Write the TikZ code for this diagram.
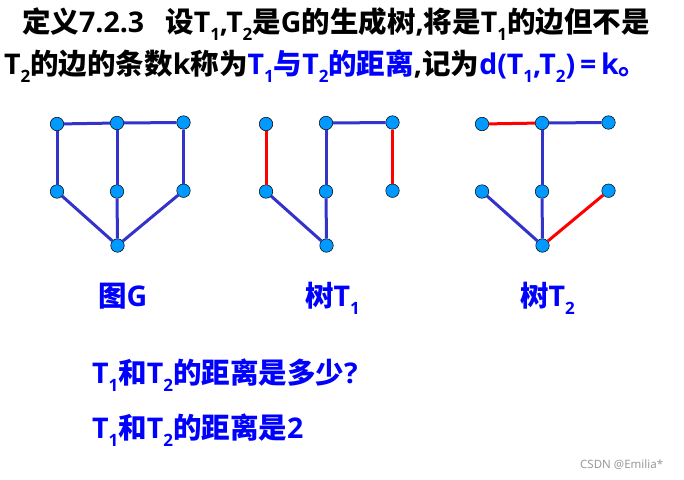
\documentclass[tikz,border=0pt]{standalone}
\usepackage{fontspec}
\setmainfont{Noto Sans CJK SC}
\newfontfamily\latfont{Open Sans}
\newfontfamily\markfont{Noto Sans}
\newcommand\lw[1]{{\latfont #1}}
\newcommand\sbs[1]{\raisebox{-0.3em}{\latfont\fontsize{17}{17}\selectfont #1}}
\definecolor{vtxblue}{RGB}{0,153,255}
\definecolor{edgeblue}{RGB}{51,51,204}
\definecolor{txtblue}{RGB}{0,0,255}
\tikzset{
  vtx/.style={circle,draw=black,line width=0.5pt,fill=vtxblue,inner sep=0pt,minimum size=13.5pt},
  bluedge/.style={line width=3pt,draw=edgeblue},
  rededge/.style={line width=3pt,draw=red},
  txt/.style={anchor=base west,inner sep=0pt,font=\bfseries\fontsize{28.5}{32}\selectfont}
}

\begin{document}
\begin{tikzpicture}[x=1pt,y=-1pt]
\useasboundingbox (0,0) rectangle (684,479);
\node[txt] (ttl1) at (22,32) {定义\lw{7.2.3}\hspace{21pt}设\lw{T}\sbs{1}\lw{,T}\sbs{2}是\lw{G}的生成树\lw{,}将是\lw{T}\sbs{1}的边但不是};
\node[txt] (ttl2) at (4,74) {\lw{T}\sbs{2}的边的条数\lw{k}称为\textcolor{txtblue}{\lw{T}\sbs{1}与\lw{T}\sbs{2}的距离}\lw{,}记为\textcolor{txtblue}{\lw{d(T}\sbs{1}\lw{,T}\sbs{2}\lw{)\,=\,k}。}};
\foreach \g/\dx in {g/57,a/266,b/482}{
  \node[vtx] (\g1) at (\dx,124) {};
  \node[vtx] (\g2) at ({\dx+60},123) {};
  \node[vtx] (\g3) at ({\dx+126.5},122.5) {};
  \node[vtx] (\g4) at (\dx,191.5) {};
  \node[vtx] (\g5) at ({\dx+60},191.5) {};
  \node[vtx] (\g6) at ({\dx+126.5},190.7) {};
  \node[vtx] (\g7) at ({\dx+60.5},245.5) {};
}
\foreach \u/\v in {1/2,2/3,1/4,2/5,3/6,4/7,5/7,6/7} \draw[bluedge] (g\u)--(g\v);
\foreach \g in {a,b}{
  \foreach \u/\v in {2/3,2/5,4/7,5/7} \draw[bluedge] (\g\u)--(\g\v);
}
\foreach \u/\v in {1/4,3/6} \draw[rededge] (a\u)--(a\v);
\foreach \u/\v in {1/2,6/7} \draw[rededge] (b\u)--(b\v);
\node[txt,text=txtblue] (lblG) at (98,306) {图\lw{G}};
\node[txt,text=txtblue] (lblA) at (305,306) {树\lw{T}\sbs{1}};
\node[txt,text=txtblue] (lblB) at (520,306) {树\lw{T}\sbs{2}};
\node[txt,text=txtblue] (ask) at (92,383) {\lw{T}\sbs{1}和\lw{T}\sbs{2}的距离是多少\lw{?}};
\node[txt,text=txtblue] (ans) at (92,438) {\lw{T}\sbs{1}和\lw{T}\sbs{2}的距离是\lw{2}};
\node[anchor=base west,inner sep=0pt,text=black!40,font=\markfont\fontsize{11.5}{13}\selectfont] (mark) at (580,468) {CSDN @Emilia*};
\end{tikzpicture}
\end{document}
